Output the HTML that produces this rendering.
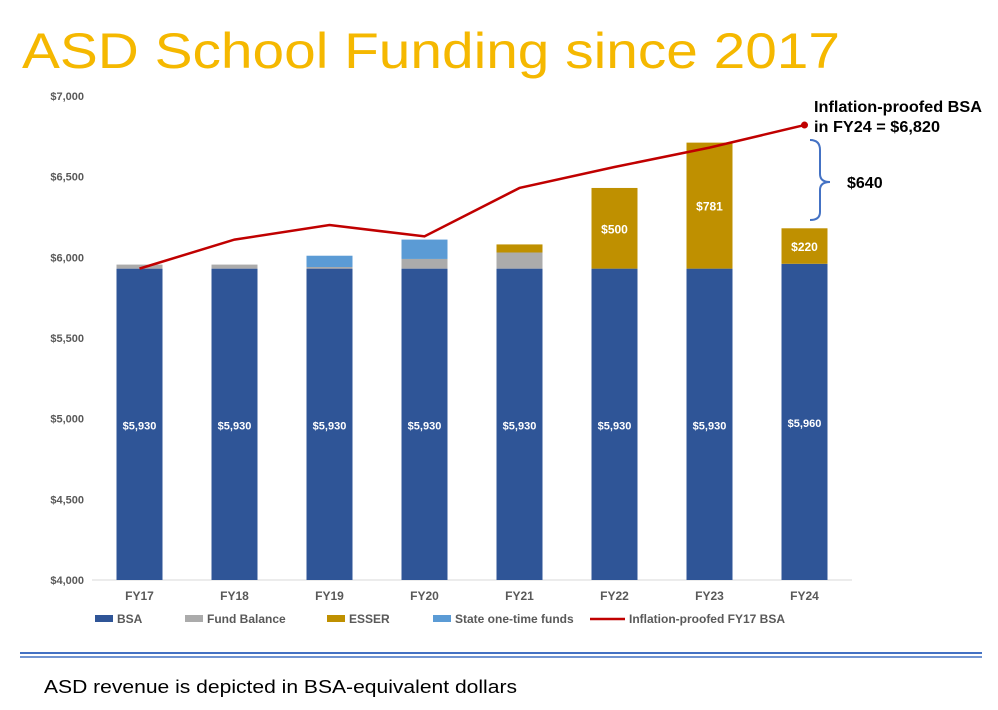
<!DOCTYPE html>
<html><head><meta charset="utf-8"><style>
body{margin:0;background:#fff;}
svg{display:block;font-family:"Liberation Sans",Arial,sans-serif;}
</style></head><body>
<svg id="chart" width="998" height="710" viewBox="0 0 998 710">
<text x="22" y="68" font-size="50" fill="#F5B800" textLength="818" lengthAdjust="spacingAndGlyphs">ASD School Funding since 2017</text>
<g id="grid"></g><g id="bars"></g><g id="line"></g>
<g>
<text x="814" y="112" font-size="16" font-weight="bold" fill="#000" textLength="168" lengthAdjust="spacingAndGlyphs">Inflation-proofed BSA</text>
<text x="814" y="132" font-size="16" font-weight="bold" fill="#000" textLength="126" lengthAdjust="spacingAndGlyphs">in FY24 = $6,820</text>
<path d="M810,140 Q820,140 820,150 L820,174 Q820,182 830,182 Q820,182 820,190 L820,212 Q820,220 810,220" fill="none" stroke="#4472C4" stroke-width="2"/>
<text x="847" y="188" font-size="16" font-weight="bold" fill="#000">$640</text>
</g>
<g id="legend"></g>
<line x1="20" y1="653" x2="982" y2="653" stroke="#4472C4" stroke-width="2"/>
<line x1="20" y1="657" x2="982" y2="657" stroke="#4472C4" stroke-width="1.5"/>
<text x="44" y="693" font-size="18" fill="#000" textLength="473" lengthAdjust="spacingAndGlyphs">ASD revenue is depicted in BSA-equivalent dollars</text>
</svg>
<script>
const categories=["FY17","FY18","FY19","FY20","FY21","FY22","FY23","FY24"];
const bsa=[5930,5930,5930,5930,5930,5930,5930,5960];
const fundBalance=[25,25,10,60,100,0,0,0];
const esser=[0,0,0,0,50,500,781,220];
const stateFunds=[0,0,70,120,0,0,0,0];
const inflation=[5930,6110,6200,6130,6430,6560,6680,6820];
const yTicks=[4000,4500,5000,5500,6000,6500,7000];
const ns="http://www.w3.org/2000/svg";
const x0=92,x1=852,yMin=4000,yMax=7000,py0=580,py1=96;
const y=v=>py0-(v-yMin)/(yMax-yMin)*(py0-py1);
const step=(x1-x0)/categories.length;
const xc=i=>x0+step*(i+0.5);
const bw=46;
function mk(t,a,p){const e=document.createElementNS(ns,t);for(const k in a)e.setAttribute(k,a[k]);(p||document.getElementById('chart')).appendChild(e);return e;}
const grid=document.getElementById('grid'),bars=document.getElementById('bars'),line=document.getElementById('line'),legend=document.getElementById('legend');
yTicks.forEach(t=>{const tx=mk('text',{x:84,y:y(t)+4,'font-size':11,'font-weight':'bold',fill:'#595959','text-anchor':'end'},grid);tx.textContent='$'+t.toLocaleString('en-US');

});
const ax=mk('line',{x1:x0,x2:x1,y1:py0,y2:py0,stroke:'#d9d9d9'},grid);


const series=[[bsa,'#2F5597','bsa'],[fundBalance,'#ABABAB','fund-balance'],[esser,'#BF9000','esser'],[stateFunds,'#5B9BD5','state-funds']];
categories.forEach((c,i)=>{let base=yMin;
series.forEach(([arr,col,nm])=>{const v=arr[i];if(v<=0)return;const b=base+(nm==='bsa'?v-yMin:v);
const r=mk('rect',{x:xc(i)-bw/2,y:y(b),width:bw,height:y(base)-y(b),fill:col},bars);


if(nm==='bsa'||(nm==='esser'&&v>=200)){const t=mk('text',{x:xc(i),y:(y(b)+y(base))/2+5,'font-size':nm==='bsa'?11:12,'font-weight':'bold',fill:'#fff','text-anchor':'middle'},bars);t.textContent='$'+v.toLocaleString('en-US');

}
base=b;});
const t=mk('text',{x:xc(i),y:600,'font-size':12,'font-weight':'bold',fill:'#595959','text-anchor':'middle'},grid);t.textContent=c;

});
const pl=mk('polyline',{points:inflation.map((v,i)=>xc(i)+','+y(v)).join(' '),fill:'none',stroke:'#C00000','stroke-width':2.5},line);


const last=inflation.length-1;
const dot=mk('circle',{cx:xc(last),cy:y(inflation[last]),r:3.5,fill:'#C00000'},line);


const leg=[['BSA','#2F5597',95,'rect'],['Fund Balance','#ABABAB',185,'rect'],['ESSER','#BF9000',327,'rect'],['State one-time funds','#5B9BD5',433,'rect'],['Inflation-proofed FY17 BSA','#C00000',590,'line']];
leg.forEach(([l,c,lx,k])=>{const g=mk('g',{},legend);


if(k==='rect')mk('rect',{x:lx,y:615,width:18,height:7,fill:c},g);else mk('line',{x1:lx,x2:lx+35,y1:619,y2:619,stroke:c,'stroke-width':2.5},g);
const t=mk('text',{x:lx+(k==='rect'?22:39),y:623,'font-size':12,'font-weight':'bold',fill:'#595959'},g);t.textContent=l;});
</script>
</body></html>
